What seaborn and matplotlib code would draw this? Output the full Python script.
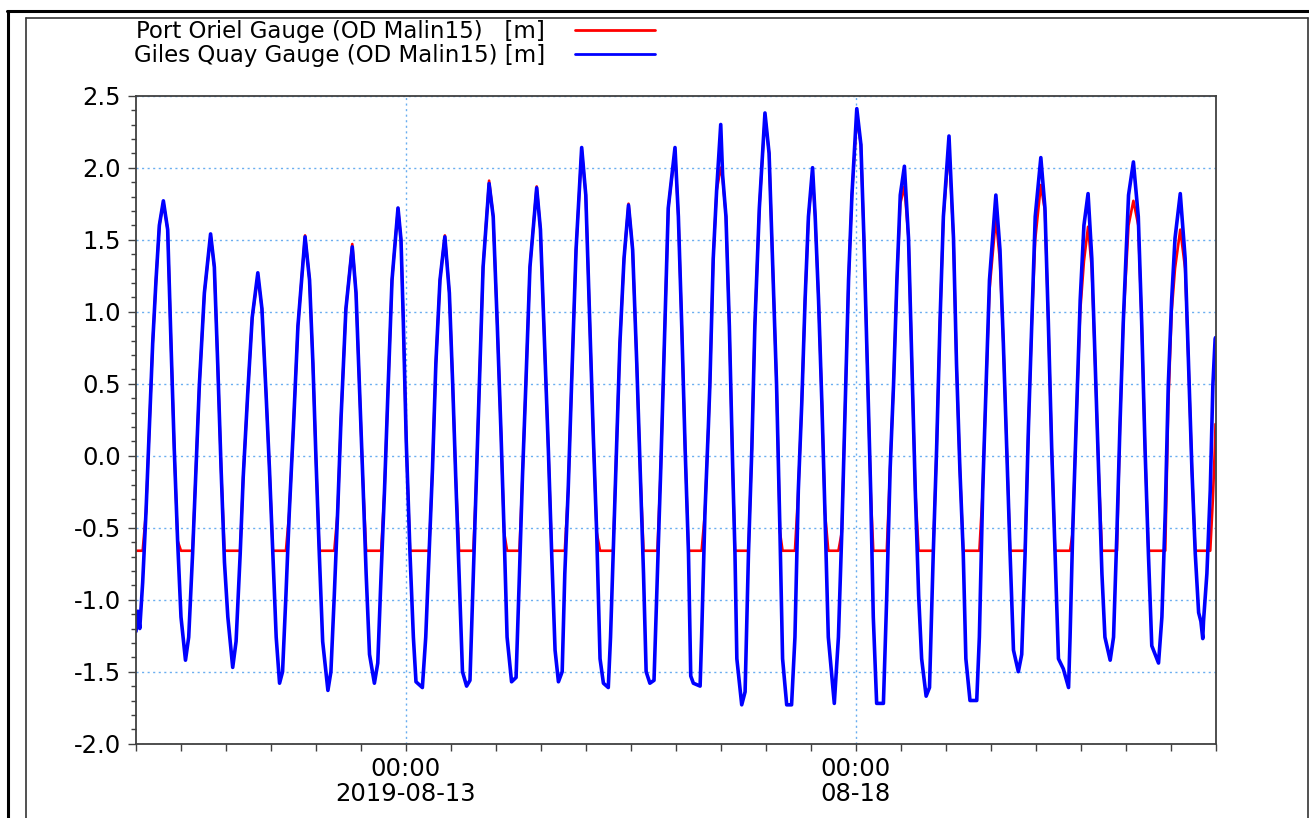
import numpy as np
import pandas as pd
import matplotlib
matplotlib.use("Agg")
import matplotlib.pyplot as plt
import matplotlib.dates as mdates
from matplotlib.lines import Line2D
from matplotlib.ticker import MultipleLocator, FormatStrFormatter
import seaborn as sns

# hours after 2019-08-10 00:00, water level in m (OD Malin15)
hours = [
    0.0, 0.5, 1.0, 1.78, 2.67, 3.56, 4.45, 5.34, 6.23, 7.3,
    8.45, 9.34, 10.2, 11.1, 12.0, 13.2, 14.06, 15.1, 16.0, 16.9, 18.24, 19.9,
    20.9, 21.8, 22.7, 23.6, 24.5, 25.8, 26.7, 27.8, 28.6, 29.8, 31.0, 32.5,
    33.6, 34.7, 35.6, 36.5, 37.4, 38.3, 39.1, 40.0, 40.9, 42.0, 43.2, 45.1,
    46.3, 47.2, 48.0, 48.9, 49.8, 51.2, 52.0, 52.9, 53.8, 54.7, 56.0, 57.7,
    58.7, 59.6, 60.5, 61.4, 62.3, 63.6, 64.5, 65.4, 66.3, 67.2, 68.3, 69.9,
    70.7, 71.3, 72.1, 73.1, 74.0, 74.7, 76.4, 77.3, 78.2, 79.1, 80.0, 81.1, 82.4,
    83.6, 84.5, 85.3, 86.2, 87.1, 88.2, 89.1, 90.0, 90.7, 91.6, 92.6, 94.2,
    95.3, 96.4, 97.4, 98.2, 99.0, 100.2, 101.4, 102.3, 103.1, 104.0, 105.1, 106.9,
    107.9, 108.9, 110.0, 110.9, 111.8, 112.7, 113.7, 114.4, 115.3, 116.2, 117.4, 118.9,
    120.0, 121.1, 122.0, 122.9, 123.8, 124.7, 126.0, 126.6, 127.3, 128.2, 129.1, 130.2, 131.4,
    132.5, 133.6, 134.5, 135.4, 136.1, 137.1, 138.2, 139.1, 140.0, 140.9, 142.0, 143.8,
    144.7, 145.6, 146.5, 147.4, 148.0, 148.7, 150.5, 150.9, 151.8, 152.7, 153.1, 154.0, 154.9, 156.0, 156.5,
    157.4, 158.3, 159.2, 159.8, 160.3, 161.6, 162.5, 163.4, 164.3, 165.1, 166.3, 167.8,
    168.9, 170.0, 170.9, 171.8, 172.5, 173.6, 174.9, 175.8, 176.7, 177.6, 178.5, 179.4, 180.5,
    181.2, 182.1, 183.0, 183.8, 184.7, 186.3, 187.4, 188.3, 189.2, 190.1, 191.0, 192.3,
    193.4, 194.2, 195.1, 196.0, 196.7, 197.6, 199.4, 200.3, 201.2, 202.1, 203.0, 203.9, 205.0,
    206.1, 207.0, 207.9, 208.8, 209.6, 210.8, 211.7, 212.7, 213.6, 214.5, 215.4, 216.9,
    218.1, 218.9, 219.8, 220.7, 221.4, 222.5, 224.3, 225.0, 225.9, 226.8, 227.7, 229.4,
    230.5, 231.4, 232.3, 233.2, 234.1, 235.4, 236.3, 237.2, 238.1, 239.0, 239.9, 241.4,
    242.5, 243.4, 244.3, 245.2, 246.1, 247.4, 248.8, 249.2, 249.9, 250.8, 251.9, 252.9, 254.0,
    255.0, 255.9, 256.8, 257.7, 258.5, 259.9, 260.8, 261.7, 262.5, 263.4, 264.8, 266.1,
    267.4, 268.3, 269.2, 270.1, 271.0, 272.8, 273.7, 274.6, 275.4, 276.3, 277.2, 278.6,
    279.9, 280.8, 281.7, 282.6, 283.5, 284.1, 284.6, 284.8, 285.7, 286.6, 287.3, 287.9, 288.0,
]

giles_quay = [
    -1.22, -1.08, -1.2, -0.88, -0.39, 0.2, 0.78, 1.22, 1.6, 1.77,
    1.57, 0.78, 0.05, -0.59, -1.12, -1.42, -1.26, -0.68, -0.09, 0.49, 1.13, 1.54,
    1.31, 0.64, -0.09, -0.74, -1.12, -1.47, -1.29, -0.68, -0.15, 0.43, 0.96, 1.27,
    1.02, 0.43, -0.09, -0.68, -1.26, -1.58, -1.5, -0.97, -0.39, 0.2, 0.9, 1.52,
    1.22, 0.64, -0.01, -0.68, -1.29, -1.63, -1.5, -0.97, -0.39, 0.26, 1.02, 1.45,
    1.13, 0.49, -0.15, -0.82, -1.38, -1.58, -1.44, -0.82, -0.24, 0.43, 1.22, 1.72,
    1.5, 0.95, 0.1, -0.68, -1.26, -1.57, -1.61, -1.26, -0.68, -0.09, 0.64, 1.22, 1.52,
    1.13, 0.49, -0.15, -0.82, -1.5, -1.6, -1.56, -0.82, -0.24, 0.49, 1.31, 1.89,
    1.66, 0.9, 0.14, -0.53, -1.26, -1.57, -1.54, -0.82, -0.15, 0.49, 1.31, 1.86,
    1.57, 0.84, 0.05, -0.68, -1.35, -1.57, -1.5, -0.82, -0.24, 0.49, 1.43, 2.14,
    1.81, 0.9, 0.14, -0.53, -1.41, -1.58, -1.61, -1.26, -0.68, 0.05, 0.78, 1.37, 1.74,
    1.43, 0.64, -0.09, -0.82, -1.5, -1.58, -1.56, -0.82, -0.09, 0.73, 1.72, 2.14,
    1.66, 0.9, 0.05, -0.68, -1.53, -1.58, -1.6, -1.26, -0.39, 0.2, 0.49, 1.37, 1.84, 2.3, 1.95,
    1.66, 0.9, -0.09, -0.68, -1.41, -1.73, -1.64, -0.68, 0.05, 0.9, 1.72, 2.38,
    2.1, 1.22, 0.49, -0.53, -1.41, -1.73, -1.73, -1.26, -0.24, 0.35, 1.08, 1.66, 2.0,
    1.66, 1.08, 0.35, -0.39, -1.26, -1.72, -1.26, -0.53, 0.35, 1.22, 1.81, 2.41,
    2.16, 1.51, 0.64, -0.24, -1.12, -1.72, -1.72, -0.97, -0.09, 0.49, 1.22, 1.81, 2.01,
    1.51, 0.64, -0.24, -0.97, -1.41, -1.67, -1.61, -0.68, 0.05, 0.93, 1.66, 2.22,
    1.51, 0.64, -0.09, -0.68, -1.41, -1.7, -1.7, -1.26, -0.24, 0.49, 1.22, 1.81,
    1.43, 0.78, 0.05, -0.68, -1.35, -1.5, -1.38, -0.68, 0.2, 0.93, 1.66, 2.07,
    1.72, 0.93, 0.05, -0.68, -1.41, -1.48, -1.61, -1.26, -0.53, 0.2, 1.08, 1.6, 1.82,
    1.37, 0.64, -0.09, -0.82, -1.26, -1.42, -1.26, -0.53, 0.2, 0.93, 1.81, 2.04,
    1.66, 0.93, 0.05, -0.68, -1.32, -1.44, -1.12, -0.39, 0.49, 1.08, 1.51, 1.82,
    1.37, 0.64, -0.09, -0.68, -1.09, -1.15, -1.27, -1.15, -0.82, -0.24, 0.49, 0.81, 0.82,
]

# Port Oriel gauge dries out at about -0.66 m
port_oriel = [
    -0.66, -0.66, -0.66, -0.66, -0.39, 0.2, 0.78, 1.22, 1.6, 1.76,
    1.57, 0.78, 0.05, -0.59, -0.66, -0.66, -0.66, -0.66, -0.09, 0.49, 1.13, 1.53,
    1.31, 0.64, -0.09, -0.66, -0.66, -0.66, -0.66, -0.66, -0.15, 0.43, 0.96, 1.25,
    1.02, 0.43, -0.09, -0.66, -0.66, -0.66, -0.66, -0.66, -0.39, 0.2, 0.9, 1.53,
    1.22, 0.64, -0.01, -0.66, -0.66, -0.66, -0.66, -0.66, -0.39, 0.26, 1.02, 1.47,
    1.13, 0.49, -0.15, -0.66, -0.66, -0.66, -0.66, -0.66, -0.24, 0.43, 1.22, 1.72,
    1.5, 0.95, 0.1, -0.66, -0.66, -0.66, -0.66, -0.66, -0.66, -0.09, 0.64, 1.22, 1.53,
    1.13, 0.49, -0.15, -0.66, -0.66, -0.66, -0.66, -0.66, -0.24, 0.49, 1.31, 1.91,
    1.66, 0.9, 0.14, -0.53, -0.66, -0.66, -0.66, -0.66, -0.15, 0.49, 1.31, 1.87,
    1.57, 0.84, 0.05, -0.66, -0.66, -0.66, -0.66, -0.66, -0.24, 0.49, 1.43, 2.13,
    1.81, 0.9, 0.14, -0.53, -0.66, -0.66, -0.66, -0.66, -0.66, 0.05, 0.78, 1.37, 1.75,
    1.43, 0.64, -0.09, -0.66, -0.66, -0.66, -0.66, -0.66, -0.09, 0.73, 1.72, 2.12,
    1.66, 0.9, 0.05, -0.66, -0.66, -0.66, -0.66, -0.66, -0.39, 0.2, 0.49, 1.37, 1.84, 2.0, 1.93,
    1.66, 0.9, -0.09, -0.66, -0.66, -0.66, -0.66, -0.66, 0.05, 0.9, 1.72, 2.36,
    2.1, 1.22, 0.49, -0.53, -0.66, -0.66, -0.66, -0.66, -0.24, 0.35, 1.08, 1.66, 1.96,
    1.66, 1.08, 0.35, -0.39, -0.66, -0.66, -0.66, -0.53, 0.35, 1.22, 1.81, 2.35,
    2.16, 1.51, 0.64, -0.24, -0.66, -0.66, -0.66, -0.66, -0.09, 0.49, 1.22, 1.75, 1.87,
    1.51, 0.64, -0.24, -0.66, -0.66, -0.66, -0.66, -0.66, 0.05, 0.93, 1.66, 2.13,
    1.51, 0.64, -0.09, -0.66, -0.66, -0.66, -0.66, -0.66, -0.24, 0.49, 1.15, 1.65,
    1.35, 0.78, 0.05, -0.66, -0.66, -0.66, -0.66, -0.66, 0.2, 0.93, 1.5, 1.88,
    1.7, 0.93, 0.05, -0.66, -0.66, -0.66, -0.66, -0.66, -0.53, 0.2, 1.0, 1.35, 1.59,
    1.3, 0.64, -0.09, -0.66, -0.66, -0.66, -0.66, -0.66, 0.2, 0.93, 1.6, 1.77,
    1.6, 0.93, 0.05, -0.66, -0.66, -0.66, -0.66, -0.66, 0.35, 1.0, 1.3, 1.57,
    1.3, 0.64, -0.09, -0.66, -0.66, -0.66, -0.66, -0.66, -0.66, -0.66, -0.3, 0.1, 0.22,
]

start = pd.Timestamp("2019-08-10 00:00")
end = pd.Timestamp("2019-08-22 00:00")
major_days = [pd.Timestamp("2019-08-13"), pd.Timestamp("2019-08-18")]
major_labels = ["00:00\n2019-08-13", "00:00\n08-18"]
labels = ["Port Oriel Gauge (OD Malin15)   [m]", "Giles Quay Gauge (OD Malin15) [m]"]

df = pd.DataFrame({
    "time": start + pd.to_timedelta(hours, unit="h"),
    "oriel": port_oriel,
    "giles": giles_quay,
})

sns.set_style("white")
plt.rcParams["font.family"] = ["DejaVu Sans"]
plt.rcParams["axes.unicode_minus"] = False
plt.rcParams["text.color"] = "black"
plt.rcParams["xtick.labelcolor"] = "black"
plt.rcParams["ytick.labelcolor"] = "black"

W, H = 1309, 818
fig = plt.figure(figsize=(W / 100, H / 100), dpi=100)
ax = fig.add_axes([136 / W, 1 - 743.7 / H, (1215.5 - 136) / W, (743.7 - 95.7) / H])

sns.lineplot(data=df, x="time", y="oriel", ax=ax, color="#ff0000", linewidth=1.9, estimator=None)
sns.lineplot(data=df, x="time", y="giles", ax=ax, color="#0000ff", linewidth=2.6, estimator=None)

ax.set_xlim(start, end)
ax.set_ylim(-2.0, 2.5)
ax.set_xlabel("")
ax.set_ylabel("")

ax.yaxis.set_major_locator(MultipleLocator(0.5))
ax.yaxis.set_minor_locator(MultipleLocator(0.1))
ax.yaxis.set_major_formatter(FormatStrFormatter("%.1f"))
ax.set_xticks(major_days, labels=major_labels)
ax.xaxis.set_minor_locator(mdates.HourLocator(byhour=[0, 12]))

ax.tick_params(axis="y", which="major", direction="out", length=5.8, width=1,
               color="#404040", labelsize=17.5, labelcolor="black", pad=5, left=True)
ax.tick_params(axis="y", which="minor", direction="out", length=3.6, width=1,
               color="#404040", left=True)
ax.tick_params(axis="x", which="both", direction="out", length=4.8, width=1,
               color="#404040", labelsize=17.5, labelcolor="black", pad=4.5, bottom=True)
for lab in ax.get_xticklabels():
    lab.set_linespacing(1.05)

ax.grid(True, which="major", color="#6aaef0", linestyle=(0, (1.5, 2.5)), linewidth=1.0)
for s in ax.spines.values():
    s.set_color("#404040")
    s.set_linewidth(1.3)

handles = [Line2D([], [], color="#ff0000", linewidth=2.0),
           Line2D([], [], color="#0000ff", linewidth=2.0)]
fig.legend(handles, labels, loc="upper left", bbox_to_anchor=(134 / W, 1 - 20 / H),
           frameon=False, markerfirst=False, fontsize=16.5, handlelength=3.5,
           handletextpad=1.3, labelspacing=0.06, borderpad=0, borderaxespad=0,
           labelcolor="black")

# window frames around the chart
def px(x, y):
    return x / W, 1 - y / H

fig.add_artist(Line2D([px(7.5, 0)[0]] * 2, [px(0, 11)[1], 0], color="black", linewidth=2.2))
fig.add_artist(Line2D([px(6.5, 0)[0], 1], [px(0, 11)[1]] * 2, color="black", linewidth=2.2))
fig.add_artist(Line2D([px(26, 0)[0]] * 2, [px(0, 18)[1], 0], color="#333333", linewidth=1.2))
fig.add_artist(Line2D([px(26, 0)[0], px(1307.5, 0)[0]], [px(0, 18)[1]] * 2, color="#333333", linewidth=1.2))
fig.add_artist(Line2D([px(1307.5, 0)[0]] * 2, [px(0, 18)[1], 0], color="#333333", linewidth=1.2))

fig.savefig("out.png", dpi=100, facecolor="white")
